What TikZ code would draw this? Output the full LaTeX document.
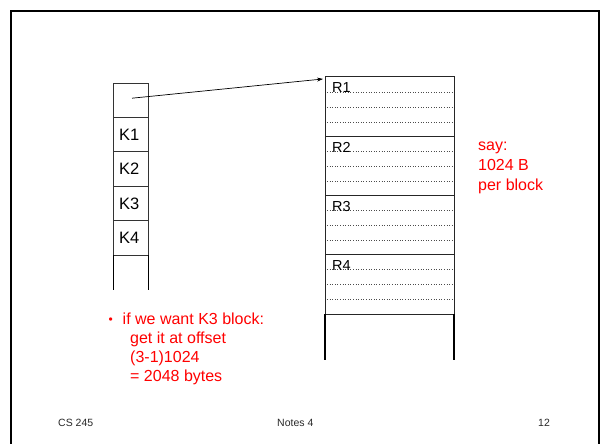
\documentclass[tikz,border=0pt]{standalone}
\usepackage{fontspec}
\setmainfont{Liberation Sans}
\usetikzlibrary{arrows.meta,calc}
\definecolor{slidered}{RGB}{255,0,0}
\definecolor{footgray}{RGB}{40,40,40}
\begin{document}
\begin{tikzpicture}[x=1pt,y=-1pt,
  idxbox/.style={draw=black!80, line width=0.8pt, minimum height=34.4pt, text width=23pt,
    inner xsep=6pt, inner ysep=0pt, outer sep=0pt, align=left, font=\fontsize{16.5}{19}\selectfont},
  blockbox/.style={draw=black!85, line width=1pt, minimum width=129pt, minimum height=59.25pt,
    inner sep=0pt, outer sep=0pt},
  dotline/.style={draw=black!70, dotted, line width=0.6pt},
  openline/.style={draw=black, line width=1.4pt},
  idxopen/.style={draw=black, line width=1pt},
  rlabel/.style={font=\fontsize{14.5}{16}\selectfont, inner sep=0pt, anchor=base west},
  redtext/.style={text=slidered, font=\fontsize{16}{19}\selectfont, inner sep=0pt, anchor=base west},
  foot/.style={text=footgray, font=\fontsize{10.5}{12}\selectfont, inner sep=0pt, anchor=base west},
  frame/.style={draw=black, line width=1.8pt}
]
\useasboundingbox (0,0) rectangle (600,444);
% slide frame
\draw[frame] (11,450) coordinate (fbl) -- (11,11) coordinate (ftl) -- (599,11) coordinate (ftr) -- (599,450) coordinate (fbr);

% index column
\node[idxbox] (i0) at (130.5,100.2) {};
\node[idxbox] (i1) at (130.5,134.6) {K1};
\node[idxbox] (i2) at (130.5,169.0) {K2};
\node[idxbox] (i3) at (130.5,203.4) {K3};
\node[idxbox] (i4) at (130.5,237.8) {K4};
\draw[idxopen] (i4.south west) -- ++(0,35);
\draw[idxopen] (i4.south east) -- ++(0,35);

% data blocks
\foreach \n/\yc in {1/106.6,2/165.9,3/225.1,4/284.4}{
  \node[blockbox] (b\n) at (389.5,\yc) {};
  \foreach \d in {15,30,45}{
    \draw[dotline] ($(b\n.north west)+(2,\d)$) -- ($(b\n.north east)+(-1,\d)$);
  }
  \node[rlabel] (r\n) at ($(b\n.north west)+(7,16)$) {R\n};
}
\draw[openline] (b4.south west) -- ++(0,46);
\draw[openline] (b4.south east) -- ++(0,46);

% pointer
\draw[-{Stealth[length=6pt,width=4pt]}, line width=0.7pt] ($(i0.center)+(1.5,-2)$) -- ($(b1.north west)+(-2,2)$);

% red notes
\node[redtext] (say1) at (478,150.5) {say:};
\node[redtext] (say2) at (478,170.5) {1024 B};
\node[redtext] (say3) at (478,190.5) {per block};

\node[redtext, font=\fontsize{12}{14}\selectfont] (bul) at (108.5,323.5) {•};
\node[redtext] (n1) at (122.5,324.3) {if we want K3 block:};
\node[redtext] (n2) at (130,343.3) {get it at offset};
\node[redtext] (n3) at (130,362.6) {(3-1)1024};
\node[redtext] (n4) at (130,381.8) {= 2048 bytes};

% footer
\node[foot] (f1) at (58,426.7) {CS 245};
\node[foot] (f2) at (277,426.7) {Notes 4};
\node[foot] (f3) at (538,426.7) {12};
\end{tikzpicture}
\end{document}
